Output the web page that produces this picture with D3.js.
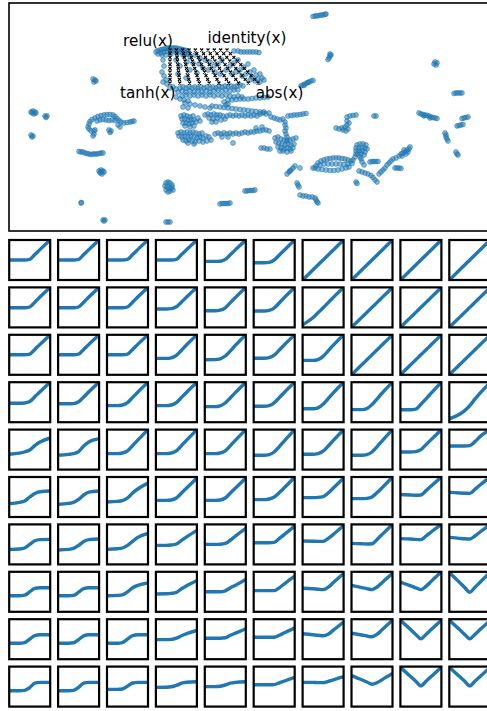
<!DOCTYPE html>
<html>
<head>
<meta charset="utf-8">
<script src="https://cdn.jsdelivr.net/npm/d3@7"></script>
<style>
  html, body { margin: 0; padding: 0; background: #fff; }
  svg { display: block; }
</style>
</head>
<body>
<svg id="fig" width="487" height="711"></svg>
<script>
// ---------- embedding of the activation-function library (2-D) ----------
const embedNorth = [
  [31.3,21.75],[31.5,21.8],[31.7,21.8],[31.9,21.85],[32.1,21.9],[32.3,21.9],[32.5,21.95],[32.6,22.0],
  [33.0,18.0],[33.0,17.8],[32.9,17.6],[32.8,17.45],[33.1,17.9],
  [43.5,17.2],[43.7,17.1],[43.6,16.9],[43.4,17.0],
  [30.1,14.8],[30.3,14.9],[30.5,15.0],[30.7,15.1],[30.9,15.2],[31.1,15.3],[31.3,15.35],[30.4,14.85],[30.8,15.15]
];

const embedWest = [
  [9.3,15.5],[9.5,15.4],[9.4,15.2],[9.6,15.3],
  [3.1,12.2],[3.3,12.3],[3.5,12.2],[3.4,12.0],[3.2,12.1],[3.6,12.1],[4.5,11.8],[4.7,11.8],[4.6,11.65],
  [3.1,9.9],[3.3,9.8],[3.2,9.7],
  [8.8,10.7],[8.9,11.0],[9.0,11.25],[9.2,11.45],[9.5,11.6],[9.8,11.75],[10.1,11.85],[10.4,11.9],[10.7,11.95],[11.0,11.95],
  [11.3,11.9],[11.5,11.75],[11.7,11.55],[11.9,11.35],[12.1,11.2],[12.4,11.1],[12.7,11.15],[13.0,11.2],[13.2,11.25],[13.4,11.3],
  [9.7,11.3],[10.0,11.4],[10.3,11.45],[10.6,11.4],[10.9,11.35],[11.2,11.4],[11.5,11.35],
  [8.9,10.5],[9.1,10.3],[9.4,10.3],[9.5,10.4],[9.4,10.0],[9.3,9.8],
  [10.9,10.4],[11.1,10.3],[11.0,10.15],[11.8,10.9],[12.0,10.7],
  [7.9,8.25],[8.1,8.2],[8.3,8.2],[8.5,8.1],[8.7,8.05],[8.9,8.0],[9.1,7.95],[9.3,8.0],[9.5,8.0],[9.7,8.0],[9.9,8.05],[10.1,8.1],[10.3,8.1],
  [9.9,6.3],[10.1,6.4],[10.3,6.3],[10.0,6.1],[10.2,6.0],[10.4,6.2],[10.1,6.2],
  [8.1,3.1],[8.15,3.15],
  [10.3,1.4],[10.5,1.4],[10.4,1.3]
];

const embedCentre = [
  // relu neighbourhood
  [15.6,18.2],[15.8,18.3],[16.0,18.4],[16.2,18.45],[16.4,18.5],[16.6,18.55],[16.8,18.6],[17.0,18.6],[17.2,18.6],[17.4,18.6],
  [17.6,18.6],[17.8,18.55],[18.0,18.5],[18.2,18.45],[18.4,18.4],[18.6,18.35],[18.8,18.3],
  [15.8,18.0],[16.1,18.1],[16.4,18.2],[16.7,18.25],[17.0,18.3],[17.3,18.3],[17.6,18.3],[17.9,18.25],[18.2,18.2],[18.5,18.1],[18.8,18.0],
  [16.2,17.9],[16.6,17.9],[17.1,18.0],[17.7,18.0],[18.3,17.9],
  // between the four corner functions
  [16.3,17.4],[16.4,16.8],[16.2,16.2],[16.4,15.8],[16.6,15.4],[16.3,15.2],[16.7,15.0],
  [18.5,17.9],[19.0,17.7],[19.5,17.9],[20.0,17.6],[18.7,17.2],[19.3,17.1],[19.9,17.0],[20.5,17.4],[21.0,17.2],[20.3,16.6],
  [20.8,16.4],[21.4,16.8],[21.8,17.0],[22.2,17.4],[21.5,16.2],[22.0,16.0],[22.6,16.4],[23.0,16.8],[23.4,17.1],[23.8,17.4],
  [23.2,16.0],[23.6,16.2],[24.0,16.4],[24.4,16.7],[24.8,17.0],[24.2,15.8],[24.6,16.0],[25.0,16.2],[25.4,16.4],[25.2,15.7],
  [25.6,15.9],[26.0,16.0],[25.8,15.5],[26.2,15.6],[25.5,15.3],[26.0,15.2],[26.4,15.4],[25.0,15.4],[19.7,16.1],[19.0,16.4],
  [18.0,16.8],[17.6,17.4],[17.8,16.0],[18.6,15.6],
  [24.4,18.2],[24.7,18.2],[25.0,18.2],[25.3,18.2],[25.6,18.2],[25.9,18.15],[23.4,18.3],[23.8,18.3],[24.1,18.2],
  // below tanh / abs
  [17.0,14.6],[17.3,14.7],[17.6,14.5],[18.0,14.6],[18.3,14.7],[18.6,14.6],[18.9,14.7],[19.2,14.6],[19.5,14.7],[19.8,14.6],
  [20.1,14.7],[20.4,14.6],[20.7,14.7],[21.0,14.6],[21.3,14.7],[21.6,14.6],[21.9,14.8],[22.2,14.7],[22.5,14.8],[22.8,14.7],
  [23.1,14.8],[23.4,14.7],[23.7,14.8],[24.0,14.9],[24.3,14.8],
  [17.8,14.2],[18.2,14.3],[18.6,14.2],[19.0,14.3],[19.4,14.2],[19.8,14.3],[20.2,14.2],[20.6,14.3],[21.0,14.2],[21.4,14.3],
  [21.8,14.4],[22.2,14.3],[22.6,14.4],[23.0,14.3],[23.4,14.4],[23.8,14.4],
  [18.2,13.8],[18.6,13.9],[19.0,13.8],[19.4,13.9],[19.8,13.8],[20.2,13.9],[20.6,13.8],[21.0,13.9],[21.4,13.8],[21.8,13.9],
  [22.2,13.8],[22.6,13.9],[23.0,13.8],[23.4,13.7],[23.8,13.8],[24.2,13.7],
  [17.6,13.7],[18.0,13.5],[18.4,13.4],[18.8,13.3],[18.5,13.1],[19.0,13.0],[19.5,12.9],[20.0,12.8],[20.5,12.7],[21.0,12.6],
  [18.3,12.7],[18.8,12.6],
  [21.2,12.8],[21.6,12.75],[22.0,12.7],[22.4,12.65],[22.8,12.6],[23.2,12.55],[23.6,12.5],[24.0,12.45],[24.4,12.4],[24.8,12.35],
  [25.2,12.3],[25.6,12.25],[26.0,12.2],[26.4,12.2],
  [22.8,13.4],[23.2,13.4],[23.6,13.45],[24.0,13.5],[24.4,13.5],[24.8,13.5],[25.2,13.55],[25.6,13.6],[26.0,13.6],[26.4,13.65],[26.8,13.7],
  [22.4,13.2],[22.6,12.9],[22.8,13.0],
  // middle band
  [18.1,11.8],[18.4,11.9],[18.7,11.8],[19.0,11.7],[19.3,11.8],[18.2,11.5],[18.5,11.5],[18.8,11.4],[19.1,11.4],[19.4,11.4],
  [18.3,11.1],[18.6,11.1],[18.9,11.0],[19.2,11.1],[19.6,11.2],[18.5,10.8],[19.0,10.7],[19.4,10.8],[19.8,11.6],[20.0,11.3],
  [20.5,11.9],[20.8,12.0],[21.1,11.9],[21.4,12.0],[21.7,11.9],[22.0,11.9],[22.3,11.8],[20.9,11.6],[21.3,11.5],[21.7,11.6],
  [22.1,11.4],[22.5,11.5],[21.2,11.2],[21.6,11.2],
  [22.7,11.8],[23.0,11.9],[23.3,11.8],[23.6,11.9],[23.9,11.8],[24.2,11.9],[24.5,11.8],[24.8,11.9],[25.1,11.8],[25.4,11.9],[25.7,11.8],
  [26.0,12.0],[26.3,12.1],[26.6,12.0],[26.9,12.1],
  [27.1,11.7],[27.4,11.6],[27.7,11.5],[28.0,11.4],[28.3,11.5],
  [28.8,11.8],[29.1,11.85],[29.4,11.9],[29.7,11.9],[30.0,11.95],[30.3,12.0],[30.6,12.05],
  [28.5,11.2],[28.5,10.9],[28.6,10.6],[28.5,10.3],[28.6,10.0],[28.7,9.7],[28.7,9.4],
  // lower band
  [17.8,10.1],[18.1,10.2],[18.4,10.1],[18.7,10.2],[19.0,10.1],[19.3,10.2],[19.6,10.1],[19.9,10.0],[20.2,10.1],
  [17.9,9.8],[18.2,9.7],[18.5,9.8],[18.8,9.7],[19.1,9.8],[19.4,9.7],[19.7,9.6],[20.0,9.7],[20.3,9.6],[20.6,9.8],[20.9,9.7],
  [18.3,9.4],[18.6,9.3],[18.9,9.4],[19.2,9.3],[19.5,9.2],[19.9,9.3],[20.3,9.2],[20.7,9.3],[21.1,9.4],[18.8,9.1],[19.4,9.0],
  [21.5,10.0],[21.8,10.1],[22.1,10.0],[22.4,10.1],[22.7,10.0],[23.0,10.1],[23.3,10.0],[23.6,10.1],[23.9,10.0],[22.2,9.7],
  [22.8,9.7],[23.3,9.1],
  [24.2,10.1],[24.5,10.2],[24.8,10.1],[25.1,10.2],[25.4,10.2],[25.7,10.3],[26.0,10.3],[26.3,10.4],[26.6,10.4],[26.9,10.3],
  [25.6,10.6],[26.2,10.7],
  [27.5,9.6],[27.8,9.7],[28.1,9.5],[28.4,9.4],[28.7,9.3],[29.0,9.4],[29.3,9.5],[29.6,9.6],[27.6,9.2],[27.9,9.1],[28.2,9.0],
  [28.5,8.9],[28.8,9.0],[29.1,8.9],[29.4,9.0],[27.8,8.7],[28.1,8.6],[28.4,8.5],[28.7,8.6],[29.0,8.5],[29.3,8.6],[28.3,8.3],
  [28.7,8.2],[28.0,8.3],[29.1,8.3],
  [26.1,8.6],[26.4,8.6],[26.7,8.5],[27.0,8.5]
];

const embedSouth = [
  [16.6,5.1],[16.8,5.2],[17.0,5.1],[17.2,4.9],[16.5,4.8],[16.7,4.7],[16.9,4.6],[17.1,4.5],[17.3,4.4],[16.6,4.4],[16.8,4.2],[17.0,4.3],[17.2,4.7],
  [16.6,1.2],[16.8,1.2],[17.0,1.2],
  [22.0,3.0],[22.2,3.05],[22.4,3.05],[22.6,3.05],[22.8,3.05],[23.0,3.1],
  [24.5,4.3],[24.7,4.3],[24.9,4.35],[25.1,4.35],[25.3,4.35],[25.5,4.4],
  [28.7,6.0],[28.9,6.2],[29.1,6.4],[29.3,6.6],[29.5,6.8],[29.0,6.3],[30.0,6.6],
  [29.7,5.1],[29.8,4.9],[29.9,4.7],
  [30.0,3.9],[30.3,3.8],[30.6,3.8],[30.9,3.7],[31.2,3.7],[31.5,3.6],[31.6,3.4],[31.7,3.2],[31.8,3.1]
];

const embedEast = [
  [31.8,7.1],[32.1,7.3],[32.4,7.4],[32.7,7.5],[33.0,7.55],[33.3,7.6],[33.6,7.6],[33.9,7.6],[34.2,7.55],[34.5,7.5],[34.8,7.4],[35.1,7.3],
  [31.6,6.8],[32.0,6.9],[32.4,7.0],[32.8,7.0],[33.2,7.0],[33.6,7.0],[34.0,7.0],[34.4,6.95],[34.8,7.0],[35.2,7.05],
  [31.5,6.6],[31.8,6.5],[32.2,6.45],[32.6,6.4],[33.0,6.35],[33.4,6.35],[33.8,6.4],[34.2,6.5],[34.6,6.6],[34.9,6.7],[31.3,6.6],
  [35.3,7.4],[35.5,7.7],[35.6,8.0],
  [35.7,8.9],[36.0,9.0],[36.3,9.0],[36.6,8.9],[35.6,8.6],[35.9,8.6],[36.2,8.6],[36.5,8.6],[36.7,8.5],[35.6,8.3],[35.9,8.3],
  [36.2,8.3],[36.5,8.2],[35.8,8.0],[36.1,8.0],[36.4,7.9],[36.0,7.7],
  [36.1,7.5],[36.2,7.2],[36.4,6.9],
  [37.0,7.2],[37.2,7.25],[37.4,7.25],[37.6,7.25],[37.8,7.25],
  [35.9,6.3],[36.2,6.2],[36.5,6.1],[36.8,6.0],[37.1,5.85],[37.3,5.65],[37.5,5.4],[37.7,5.2],
  [35.6,5.2],[35.7,5.05],
  [37.9,6.0],[38.1,6.2],[38.3,6.4],[38.5,6.6],[38.7,6.9],[38.9,7.1],[39.1,7.3],[39.3,7.5],[39.6,7.6],[39.9,7.8],[40.1,8.0],
  [40.3,8.1],[40.5,8.2],[40.7,8.4],[40.9,8.5],[41.0,8.7],[40.4,8.4],[40.8,8.2],[40.2,7.8],[40.6,8.0],
  [39.5,6.6],[39.7,6.6],[39.9,6.6],[40.1,6.55],
  [33.6,10.6],[33.9,10.5],[34.2,10.6],[34.5,10.7],[34.7,10.9],[34.8,10.5],[34.6,10.3],[34.3,10.4],[34.9,11.1],[34.7,11.3],
  [34.7,11.7],[35.0,11.8],[35.3,11.85],[35.6,11.9],
  [37.4,11.8],[37.6,11.8],
  [41.9,12.1],[42.1,12.0],[42.3,11.95],[42.5,11.9],[42.7,11.85],[42.9,11.8],[43.1,11.7],[43.3,11.65],[43.5,11.6],[43.7,11.55],[42.4,11.8],[43.0,11.6],
  [45.4,14.05],[45.6,14.1],[45.8,14.1],[46.0,14.1],[46.2,14.1],
  [46.2,11.55],[46.4,11.6],[46.6,11.65],[46.8,11.7],
  [45.7,10.8],[45.9,10.85],[46.1,10.9],[46.3,10.95],
  [44.5,10.1],[44.6,9.9],[44.6,9.7],[44.7,9.5],[44.8,9.3],
  [45.6,8.2],[45.7,8.0],[45.8,7.9]
];

// ---------- 10 x 10 sampling grid spanned by the four reference functions ----------
const gridY = [18.4, 18.03, 17.67, 17.3, 16.93, 16.57, 16.2, 15.83, 15.47, 15.1];
const gridX = [
  [17.0,17.63,18.27,18.9,19.53,20.17,20.8,21.43,22.07,22.7],
  [17.0,17.67,18.34,19.01,19.68,20.36,21.03,21.7,22.37,23.04],
  [17.0,17.71,18.42,19.13,19.84,20.55,21.26,21.97,22.68,23.39],
  [17.0,17.75,18.5,19.24,19.99,20.74,21.49,22.24,22.98,23.73],
  [17.0,17.79,18.57,19.36,20.15,20.93,21.72,22.51,23.29,24.08],
  [17.0,17.82,18.65,19.47,20.3,21.12,21.95,22.77,23.59,24.42],
  [17.0,17.86,18.73,19.59,20.45,21.32,22.18,23.04,23.9,24.77],
  [17.0,17.9,18.8,19.7,20.6,21.51,22.41,23.31,24.21,25.11],
  [17.0,17.94,18.88,19.82,20.76,21.7,22.64,23.58,24.52,25.46],
  [17.0,17.98,18.96,19.93,20.91,21.89,22.87,23.85,24.82,25.8]
];

const cornerLabels = [
  { text: "relu(x)",     x: 14.8,  y: 18.8 },
  { text: "identity(x)", x: 24.7,  y: 19.1 },
  { text: "tanh(x)",     x: 14.77, y: 13.6 },
  { text: "abs(x)",      x: 27.95, y: 13.65 }
];

// ---------- decoded activation functions at each grid node ----------
const sampleX = [-1, -0.5, -0.25, 0, 0.25, 0.5, 1];

const decodedRow1 = [
  [0,0,0,0.03,0.27,0.52,1],[0,0,0,0.03,0.27,0.52,1],[0,0,0,0.03,0.27,0.52,1],[0,0,0,0.03,0.27,0.52,1],
  [-0.07,-0.07,-0.06,0.03,0.27,0.52,1],[-0.14,-0.14,-0.12,0.0,0.25,0.5,1],
  [-1,-0.5,-0.25,0,0.25,0.5,1],[-1,-0.5,-0.25,0,0.25,0.5,1],[-1,-0.5,-0.25,0,0.25,0.5,1],[-1,-0.5,-0.25,0,0.25,0.5,1]
];
const decodedRow2 = [
  [-0.02,-0.02,-0.02,0.02,0.26,0.52,1],[-0.02,-0.02,-0.02,0.02,0.26,0.52,1],[-0.02,-0.02,-0.02,0.02,0.26,0.52,1],
  [-0.08,-0.08,-0.06,0.03,0.27,0.52,1],[-0.17,-0.17,-0.14,-0.02,0.24,0.5,1],[-0.18,-0.18,-0.15,-0.03,0.23,0.5,1],
  [-0.87,-0.52,-0.27,-0.02,0.24,0.5,1],[-1,-0.5,-0.25,0,0.25,0.5,1],[-1,-0.5,-0.25,0,0.25,0.5,1],[-1,-0.5,-0.25,0,0.25,0.5,1]
];
const decodedRow3 = [
  [0,0,0,0.03,0.27,0.52,1],[0,0,0,0.03,0.27,0.52,1],[0,0,0,0.03,0.27,0.52,1],
  [-0.18,-0.18,-0.15,-0.03,0.23,0.5,1],[-0.25,-0.24,-0.2,-0.06,0.2,0.48,1],[-0.17,-0.17,-0.14,-0.02,0.24,0.5,1],
  [-0.28,-0.28,-0.24,-0.08,0.2,0.48,1],[-1,-0.5,-0.25,0,0.25,0.5,1],[-1,-0.5,-0.25,0,0.25,0.5,1],[-1,-0.5,-0.25,0,0.25,0.5,1]
];
const decodedRow4 = [
  [-0.05,-0.05,-0.04,0.03,0.27,0.52,1],[-0.08,-0.08,-0.07,0.02,0.26,0.52,1],[-0.17,-0.17,-0.14,-0.02,0.24,0.5,1],
  [-0.17,-0.17,-0.14,-0.02,0.24,0.5,1],[-0.22,-0.22,-0.18,-0.04,0.22,0.49,1],[-0.2,-0.2,-0.17,-0.03,0.23,0.5,1],
  [-0.33,-0.33,-0.28,-0.1,0.18,0.47,1],[-0.37,-0.37,-0.32,-0.12,0.17,0.46,1],[-0.38,-0.38,-0.35,-0.1,0.17,0.45,1],
  [-0.83,-0.6,-0.42,-0.17,0.15,0.45,1]
];
const decodedRow5 = [
  [-0.23,-0.18,-0.12,-0.02,0.2,0.38,0.58],[-0.28,-0.24,-0.2,-0.1,0.18,0.38,0.55],[-0.2,-0.2,-0.17,-0.06,0.2,0.47,1],
  [-0.2,-0.2,-0.17,-0.06,0.2,0.47,1],[-0.2,-0.2,-0.17,-0.06,0.2,0.47,1],[-0.28,-0.28,-0.25,-0.12,0.15,0.44,1],
  [-0.23,-0.23,-0.2,-0.08,0.18,0.46,1],[-0.28,-0.28,-0.25,-0.12,0.15,0.44,1],[-0.12,-0.12,-0.1,0.0,0.25,0.5,1],
  [0.18,0.18,0.18,0.2,0.4,0.65,1]
];
const decodedRow6 = [
  [-0.33,-0.27,-0.2,0.0,0.18,0.26,0.3],[-0.37,-0.32,-0.27,-0.12,0.1,0.24,0.3],[-0.25,-0.22,-0.18,-0.05,0.2,0.4,0.7],
  [-0.17,-0.17,-0.15,-0.05,0.2,0.45,0.95],[-0.17,-0.17,-0.15,-0.05,0.2,0.45,0.95],[-0.13,-0.13,-0.1,0.0,0.22,0.47,1],
  [-0.03,-0.03,-0.02,0.02,0.2,0.45,0.95],[-0.08,-0.08,-0.07,0.0,0.22,0.47,1],[0.12,0.1,0.09,0.1,0.32,0.55,1],
  [0.23,0.2,0.19,0.18,0.38,0.6,1]
];
const decodedRow7 = [
  [-0.25,-0.23,-0.18,0.0,0.18,0.24,0.25],[-0.28,-0.25,-0.2,-0.05,0.15,0.24,0.27],[-0.25,-0.22,-0.18,-0.05,0.15,0.35,0.55],
  [-0.05,-0.05,-0.03,0.02,0.2,0.38,0.7],[0.0,0.0,0.01,0.05,0.22,0.42,0.8],[0.08,0.08,0.08,0.1,0.3,0.5,0.92],
  [0.17,0.16,0.15,0.15,0.3,0.5,0.95],[0.05,0.03,0.02,0.03,0.25,0.5,1],[0.29,0.27,0.25,0.24,0.42,0.62,1],
  [0.35,0.3,0.28,0.27,0.42,0.62,1]
];
const decodedRow8 = [
  [-0.2,-0.2,-0.17,0.0,0.17,0.2,0.2],[-0.2,-0.2,-0.18,-0.02,0.16,0.2,0.2],[-0.2,-0.18,-0.15,0.0,0.2,0.32,0.44],
  [-0.11,-0.1,-0.08,-0.03,0.15,0.3,0.57],[0.0,0.0,0.0,0.05,0.2,0.33,0.62],[0.06,0.06,0.06,0.06,0.2,0.4,0.78],
  [0.18,0.15,0.13,0.11,0.23,0.46,0.92],[0.32,0.21,0.16,0.11,0.24,0.47,0.92],[0.49,0.3,0.2,0.11,0.27,0.52,1],
  [0.97,0.47,0.22,-0.02,0.22,0.48,0.98]
];
const decodedRow9 = [
  [-0.2,-0.2,-0.17,0.0,0.18,0.22,0.22],[-0.2,-0.2,-0.18,-0.02,0.17,0.22,0.22],[-0.2,-0.2,-0.17,0.0,0.18,0.22,0.22],
  [-0.02,-0.02,-0.01,0.05,0.17,0.28,0.44],[0.05,0.05,0.05,0.07,0.2,0.3,0.52],[0.1,0.1,0.1,0.1,0.2,0.32,0.56],
  [0.27,0.22,0.2,0.17,0.25,0.45,0.86],[0.3,0.21,0.16,0.12,0.25,0.48,0.95],[0.95,0.48,0.24,0.02,0.24,0.48,0.95],
  [0.95,0.48,0.24,0.02,0.24,0.48,0.95]
];
const decodedRow10 = [
  [-0.21,-0.21,-0.19,-0.05,0.17,0.21,0.21],[-0.21,-0.21,-0.19,-0.04,0.17,0.21,0.21],[-0.14,-0.14,-0.12,0.02,0.18,0.21,0.21],
  [-0.04,-0.03,-0.01,0.06,0.17,0.22,0.24],[0.0,0.0,0.02,0.08,0.17,0.21,0.24],[0.09,0.09,0.09,0.1,0.19,0.28,0.46],
  [0.21,0.21,0.2,0.2,0.26,0.34,0.5],[0.55,0.34,0.23,0.12,0.2,0.35,0.66],[0.97,0.5,0.27,0.04,0.27,0.5,0.97],
  [0.97,0.5,0.27,0.04,0.27,0.5,0.97]
];

const decodedRows = [decodedRow1, decodedRow2, decodedRow3, decodedRow4, decodedRow5,
                     decodedRow6, decodedRow7, decodedRow8, decodedRow9, decodedRow10];

// ---------- drawing ----------
const blue = "#1f77b4";
const svg = d3.select("#fig");
svg.append("rect").attr("width", 487).attr("height", 711).attr("fill", "#fff");

// embedding panel
const embBox = { left: 9, right: 491, top: 3, bottom: 231 };
const xEmb = d3.scaleLinear().domain([0.9, 49.1]).range([embBox.left, embBox.right]);
const yEmb = d3.scaleLinear().domain([0.3, 23.1]).range([embBox.bottom, embBox.top]);

const defs = svg.append("defs");
defs.append("clipPath").attr("id", "embClip")
  .append("rect").attr("x", embBox.left).attr("y", embBox.top)
  .attr("width", embBox.right - embBox.left).attr("height", embBox.bottom - embBox.top);

const emb = svg.append("g").attr("clip-path", "url(#embClip)");
const allPoints = [].concat(embedNorth, embedWest, embedCentre, embedSouth, embedEast);
emb.selectAll("circle.pt").data(allPoints).join("circle")
  .attr("class", "pt")
  .attr("cx", d => xEmb(d[0]))
  .attr("cy", d => yEmb(d[1]))
  .attr("r", 2.4)
  .attr("fill", blue).attr("fill-opacity", 0.5)
  .attr("stroke", blue).attr("stroke-opacity", 0.65).attr("stroke-width", 0.9);

// grid nodes as small x markers
const gridNodes = [];
gridX.forEach((row, i) => row.forEach(x => gridNodes.push([x, gridY[i]])));
emb.selectAll("path.node").data(gridNodes).join("path")
  .attr("class", "node")
  .attr("transform", d => `translate(${xEmb(d[0])},${yEmb(d[1])})`)
  .attr("d", "M-1.5,-1.5L1.5,1.5M-1.5,1.5L1.5,-1.5")
  .attr("stroke", "#000").attr("stroke-width", 1.2).attr("fill", "none");

svg.selectAll("text.corner").data(cornerLabels).join("text")
  .attr("class", "corner")
  .attr("x", d => xEmb(d.x)).attr("y", d => yEmb(d.y))
  .attr("text-anchor", "middle")
  .attr("font-family", "DejaVu Sans, sans-serif")
  .attr("font-size", 15.2)
  .attr("fill", "#000")
  .text(d => d.text);

svg.append("rect")
  .attr("x", embBox.left).attr("y", embBox.top)
  .attr("width", embBox.right - embBox.left).attr("height", embBox.bottom - embBox.top)
  .attr("fill", "none").attr("stroke", "#000").attr("stroke-width", 1.6);

// small multiples of the decoded functions
const cellW = 41, cellH = 40;
const colStep = 48.9, rowStep = 47.4;
const gridLeft = 9.2, gridTop = 240;

const xFn = d3.scaleLinear().domain([-1, 1]).range([0, cellW]);
const yFn = d3.scaleLinear().domain([-1, 1]).range([cellH, 0]);
const fnLine = d3.line()
  .x((d, k) => xFn(sampleX[k]))
  .y(d => yFn(d))
  .curve(d3.curveMonotoneX);

defs.append("clipPath").attr("id", "cellClip")
  .append("rect").attr("x", 0).attr("y", 0).attr("width", cellW).attr("height", cellH);

decodedRows.forEach((row, i) => {
  row.forEach((vals, j) => {
    const g = svg.append("g")
      .attr("transform", `translate(${gridLeft + j * colStep},${gridTop + i * rowStep})`);
    g.append("path")
      .attr("d", fnLine(vals))
      .attr("clip-path", "url(#cellClip)")
      .attr("fill", "none")
      .attr("stroke", blue)
      .attr("stroke-width", 3.4)
      .attr("stroke-linejoin", "round");
    g.append("rect")
      .attr("width", cellW).attr("height", cellH)
      .attr("fill", "none").attr("stroke", "#000").attr("stroke-width", 2.2);
  });
});
</script>
</body>
</html>
